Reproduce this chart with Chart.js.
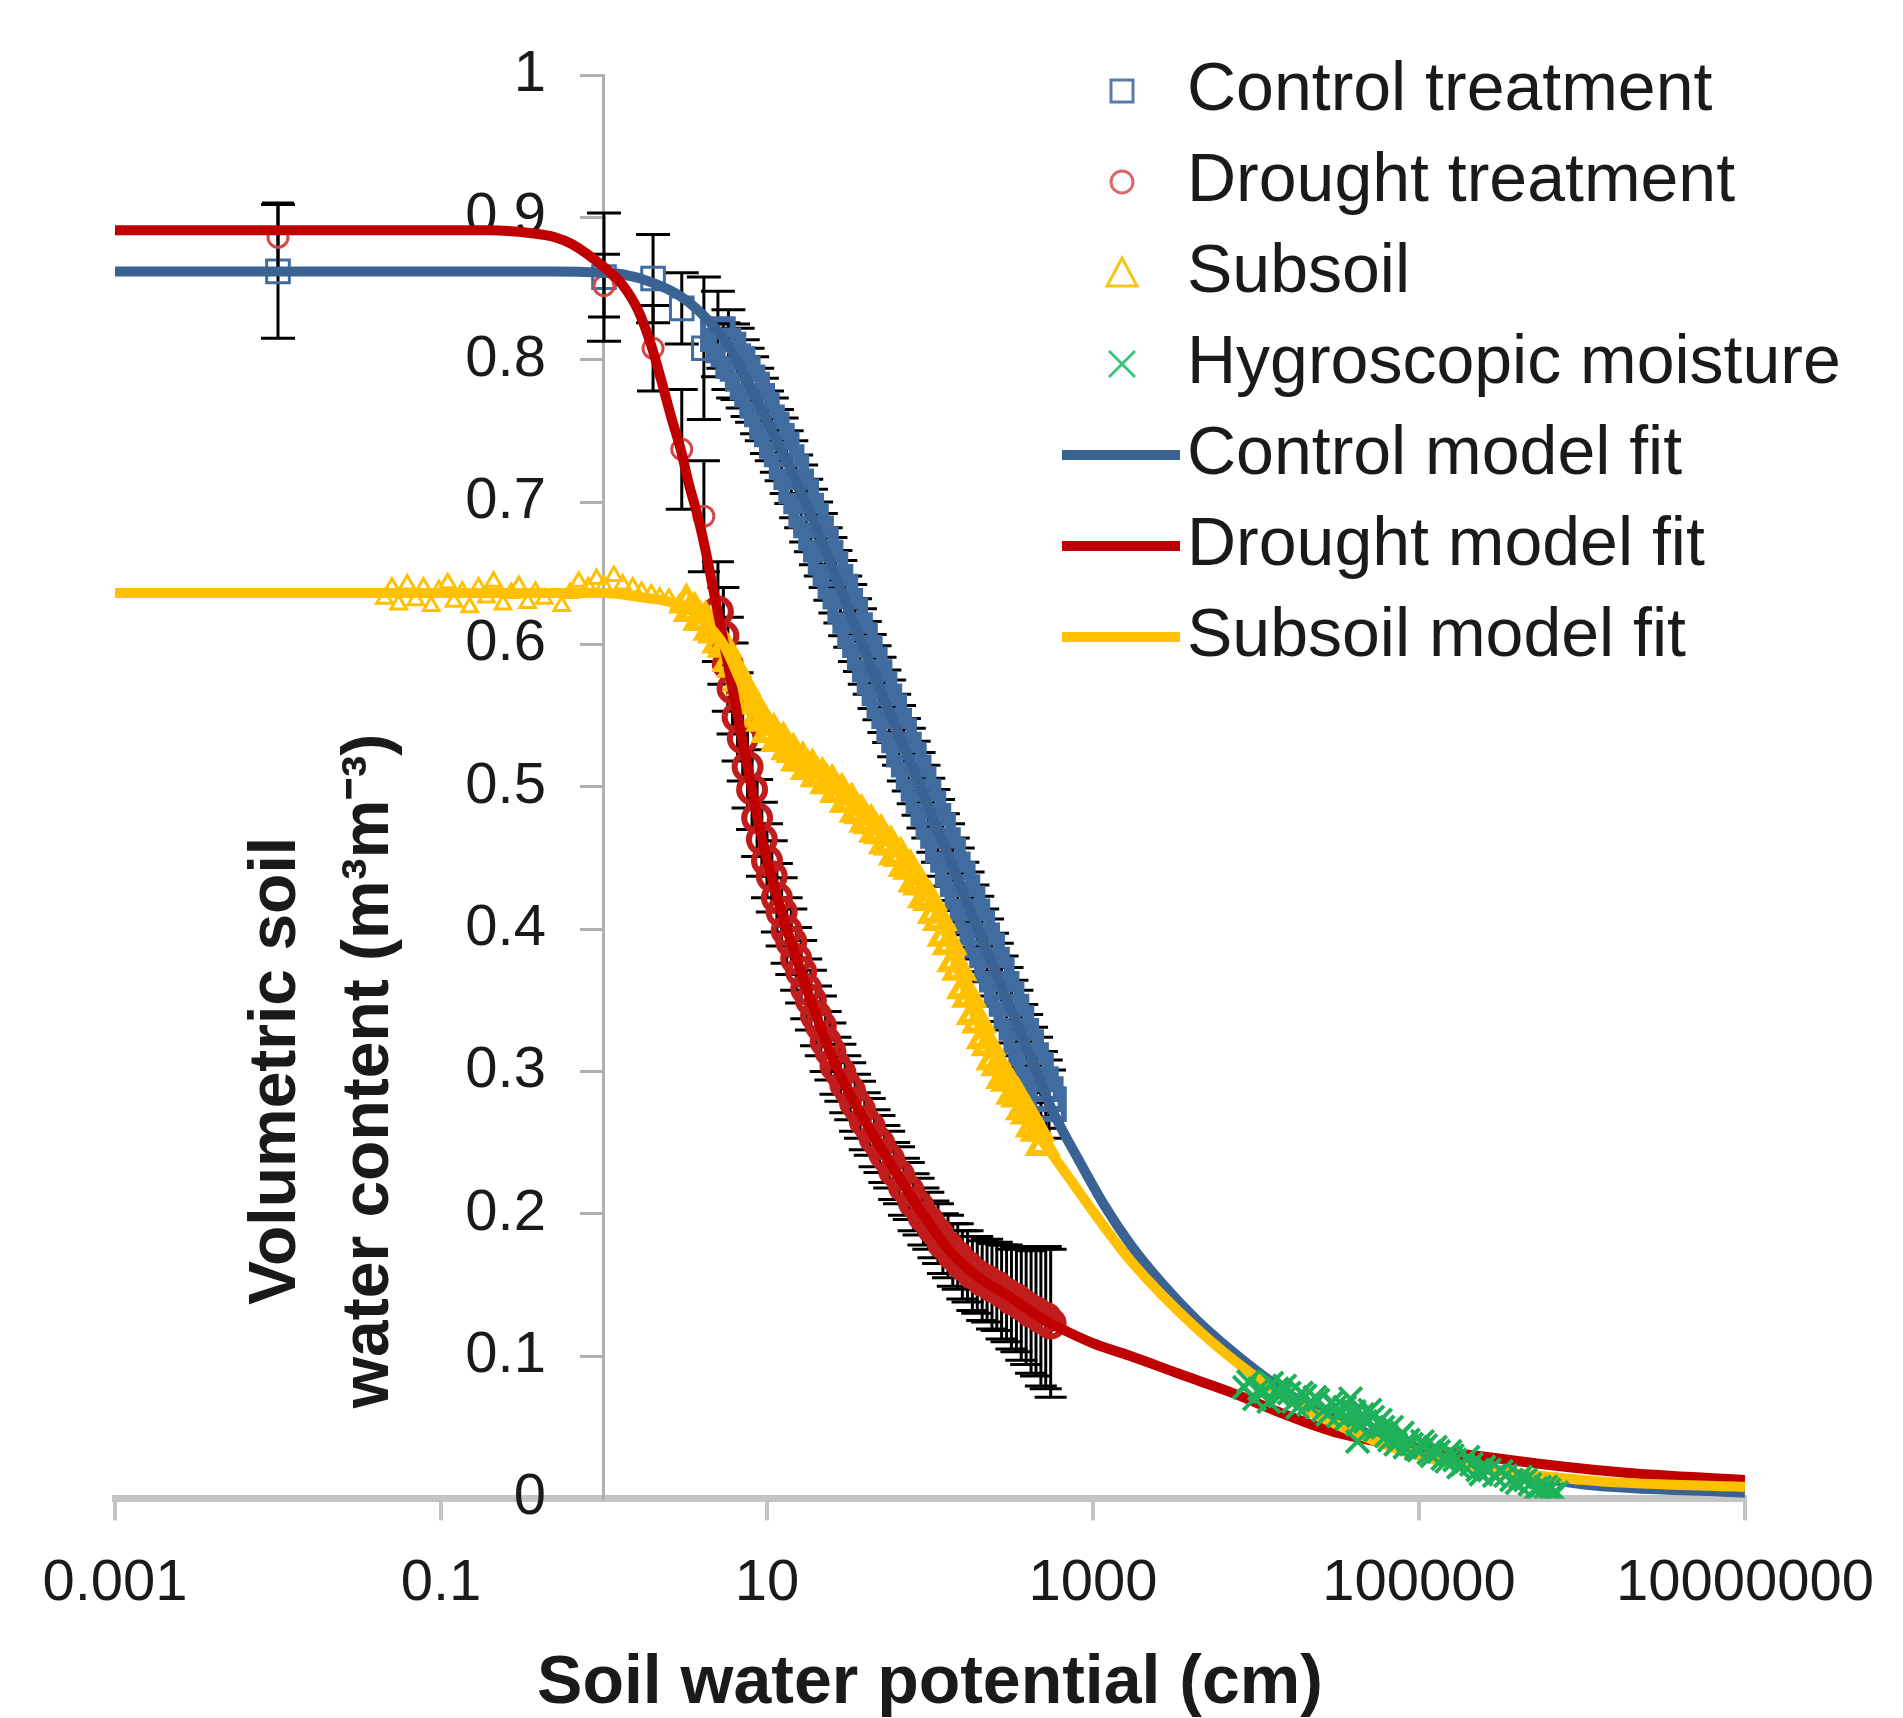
<!DOCTYPE html>
<html>
<head>
<meta charset="utf-8">
<script src="https://cdn.jsdelivr.net/npm/chart.js@4.4.1/dist/chart.umd.min.js"></script>
<style>
html,body{margin:0;padding:0;background:#ffffff;}
#wrap{width:1903px;height:1718px;position:relative;}
</style>
</head>
<body>
<div id="wrap"><canvas id="c"></canvas></div>
<script>
// ---------------- DATA ----------------
const xTickValues = [0.001, 0.1, 10, 1000, 100000, 10000000];
const xTickLabels = ['0.001', '0.1', '10', '1000', '100000', '10000000'];
const yTickLabels = ['0', '0.1', '0.2', '0.3', '0.4', '0.5', '0.6', '0.7', '0.8', '0.9', '1'];
const xTitle = 'Soil water potential (cm)';
const yTitleLines = ['Volumetric soil', 'water content (m\u00B3m\u207B\u00B3)'];
const seriesNames = ['Control treatment', 'Drought treatment', 'Subsoil', 'Hygroscopic moisture',
                     'Control model fit', 'Drought model fit', 'Subsoil model fit'];

// Control treatment (squares) with error half-widths
const ctrlX = [0.01, 1.0, 2.0, 3.0, 4.1, 5.0, 5.4, 5.8, 6.2, 6.6,
               7.1, 7.6, 8.1, 8.7, 9.3, 10, 10.7, 11.5, 12.3, 13.2,
               14.1, 15.1, 16.2, 17.4, 18.6, 20, 21.4, 22.9, 24.5, 26.3,
               28.2, 30.2, 32.4, 34.7, 37.2, 39.8, 42.7, 45.7, 49, 52.5,
               56.2, 60.3, 64.6, 69.2, 74.1, 79.4, 85.1, 91.2, 97.7, 105,
               112, 120, 129, 138, 148, 158, 170, 182, 195, 209,
               224, 240, 257, 275, 295, 316, 339, 363, 389, 417,
               447, 479, 513, 537];
const ctrlY = [0.862, 0.858, 0.857, 0.836, 0.808, 0.818, 0.810, 0.807, 0.799, 0.797,
               0.790, 0.784, 0.779, 0.771, 0.765, 0.756, 0.751, 0.743, 0.737, 0.728,
               0.721, 0.711, 0.704, 0.694, 0.687, 0.678, 0.670, 0.661, 0.653, 0.644,
               0.637, 0.627, 0.620, 0.610, 0.603, 0.594, 0.586, 0.577, 0.569, 0.560,
               0.553, 0.543, 0.536, 0.526, 0.519, 0.510, 0.502, 0.493, 0.485, 0.476,
               0.469, 0.459, 0.452, 0.442, 0.435, 0.426, 0.418, 0.409, 0.401, 0.392,
               0.385, 0.375, 0.368, 0.358, 0.351, 0.342, 0.334, 0.325, 0.317, 0.308,
               0.301, 0.291, 0.284, 0.277];
const ctrlErr = [0.047, 0.045, 0.031, 0.025, 0.05, 0.03, 0.016, 0.028, 0.026, 0.025,
                 0.024, 0.024, 0.023, 0.023, 0.022, 0.022, 0.022, 0.022, 0.022, 0.022,
                 0.022, 0.022, 0.022, 0.022, 0.022, 0.022, 0.022, 0.021, 0.022, 0.022,
                 0.022, 0.021, 0.022, 0.022, 0.022, 0.022, 0.021, 0.022, 0.022, 0.022,
                 0.022, 0.022, 0.021, 0.022, 0.022, 0.022, 0.022, 0.022, 0.021, 0.022,
                 0.022, 0.022, 0.022, 0.022, 0.022, 0.021, 0.022, 0.022, 0.022, 0.022,
                 0.022, 0.022, 0.022, 0.023, 0.022, 0.022, 0.023, 0.022, 0.023, 0.023,
                 0.023, 0.023, 0.024, 0.024];

// Drought treatment (circles) with error half-widths
const drX = [0.01, 1.0, 2.0, 3.0, 4.1, 5.0, 5.4, 5.75, 6.15, 6.6,
             7.1, 7.6, 8.1, 8.7, 9.3, 10, 10.7, 11.5, 12.3, 13.2,
             14.1, 15.1, 16.2, 17.4, 18.6, 20, 21.4, 22.9, 24.5, 26.3,
             28.2, 30.2, 32.4, 34.7, 37.2, 39.8, 42.7, 45.7, 49, 52.5,
             56.2, 60.3, 64.6, 69.2, 74.1, 79.4, 85.1, 91.2, 97.7, 105,
             112, 120, 129, 138, 148, 158, 170, 182, 195, 209,
             224, 240, 257, 275, 295, 316, 339, 363, 389, 417,
             447, 479, 513, 550];
const drY = [0.886, 0.852, 0.808, 0.737, 0.69, 0.623, 0.606, 0.586, 0.569, 0.549,
             0.534, 0.514, 0.498, 0.478, 0.463, 0.448, 0.437, 0.422, 0.412, 0.399,
             0.391, 0.379, 0.370, 0.358, 0.350, 0.339, 0.332, 0.321, 0.314, 0.304,
             0.299, 0.291, 0.286, 0.278, 0.273, 0.265, 0.261, 0.253, 0.249, 0.242,
             0.238, 0.230, 0.227, 0.219, 0.216, 0.208, 0.205, 0.198, 0.195, 0.189,
             0.186, 0.179, 0.177, 0.171, 0.170, 0.164, 0.163, 0.158, 0.157, 0.153,
             0.153, 0.149, 0.149, 0.145, 0.144, 0.140, 0.140, 0.136, 0.135, 0.131,
             0.131, 0.127, 0.127, 0.123];
const drErr = [0.024, 0.022, 0.03, 0.042, 0.039, 0.035, 0.034, 0.033, 0.032, 0.031,
               0.03, 0.029, 0.028, 0.027, 0.026, 0.026, 0.025, 0.024, 0.024, 0.023,
               0.023, 0.022, 0.022, 0.021, 0.021, 0.021, 0.021, 0.021, 0.02, 0.02,
               0.02, 0.02, 0.02, 0.02, 0.02, 0.02, 0.02, 0.02, 0.02, 0.02,
               0.02, 0.02, 0.02, 0.02, 0.02, 0.02, 0.02, 0.02, 0.02, 0.02,
               0.021, 0.021, 0.022, 0.022, 0.023, 0.024, 0.025, 0.026, 0.027, 0.028,
               0.029, 0.03, 0.031, 0.033, 0.034, 0.035, 0.037, 0.039, 0.041, 0.043,
               0.045, 0.048, 0.05, 0.052];

// Subsoil (triangles): plateau readings, then the falling band
const subFlatX = [0.045, 0.05, 0.055, 0.062, 0.07, 0.078, 0.087, 0.097, 0.11, 0.12, 0.135, 0.15, 0.17, 0.19, 0.21,
                  0.24, 0.27, 0.3, 0.34, 0.38, 0.43, 0.55, 0.62, 0.7, 0.8, 0.9, 1.0, 1.15, 1.3, 1.5,
                  1.7, 1.95, 2.2, 2.5, 2.9];
const subFlatY = [0.632, 0.64, 0.628, 0.642, 0.631, 0.64, 0.627, 0.638, 0.643, 0.63, 0.637, 0.626, 0.64, 0.633, 0.644,
                  0.628, 0.636, 0.641, 0.629, 0.637, 0.632, 0.627, 0.636, 0.644, 0.64, 0.646, 0.641, 0.648, 0.642, 0.64,
                  0.637, 0.635, 0.633, 0.632, 0.628];
const subBandX = [3.2, 3.4, 3.6, 3.9, 4.2, 4.5, 4.8, 5.1, 5.5, 5.9,
                  6.3, 6.8, 7.2, 7.8, 8.3, 8.9, 9.5, 10.2, 11, 11.7,
                  12.6, 13.5, 14.5, 15.5, 16.6, 17.8, 19, 20.4, 21.9, 23.4,
                  25.1, 26.9, 28.8, 30.9, 33.1, 35.5, 38, 40.7, 43.6, 46.8,
                  50.1, 53.7, 57.5, 61.7, 66.1, 70.8, 75.9, 81.3, 87.1, 93.3,
                  100, 107, 115, 123, 132, 141, 151, 162, 174, 186,
                  200, 214, 229, 245, 263, 282, 302, 324, 347, 372,
                  398, 427, 457, 490];
const subBandY = [0.629, 0.623, 0.623, 0.617, 0.617, 0.610, 0.608, 0.601, 0.598, 0.588,
                  0.584, 0.574, 0.571, 0.561, 0.558, 0.549, 0.546, 0.538, 0.538, 0.532,
                  0.532, 0.526, 0.524, 0.518, 0.518, 0.512, 0.513, 0.507, 0.507, 0.502,
                  0.502, 0.496, 0.496, 0.489, 0.489, 0.482, 0.481, 0.475, 0.474, 0.468,
                  0.467, 0.460, 0.459, 0.452, 0.451, 0.444, 0.442, 0.433, 0.431, 0.422,
                  0.420, 0.411, 0.406, 0.395, 0.389, 0.377, 0.371, 0.358, 0.352, 0.340,
                  0.334, 0.323, 0.318, 0.308, 0.304, 0.295, 0.293, 0.284, 0.282, 0.273,
                  0.270, 0.261, 0.258, 0.248];

// Hygroscopic moisture (crosses)
const hygX = [8500, 9000, 9800, 10500, 11300, 12000, 12500, 13500, 14000, 15000,
              16000, 17000, 18000, 19000, 20000, 21000, 23000, 24000, 26000, 27500,
              29000, 31000, 32000, 35000, 36000, 38000, 40000, 42000, 42000, 45000,
              47000, 50000, 52000, 54000, 58000, 60000, 63000, 66000, 68000, 72000,
              75000, 79000, 82000, 86000, 90000, 96000, 100000, 105000, 110000, 115000,
              120000, 126000, 132000, 140000, 148000, 155000, 160000, 166000, 175000, 185000,
              200000, 210000, 230000, 240000, 250000, 270000, 290000, 320000, 340000, 370000,
              400000, 420000, 450000, 480000, 520000, 550000, 600000, 630000, 660000, 700000];
const hygY = [0.078, 0.082, 0.07, 0.077, 0.075, 0.068, 0.081, 0.077, 0.072, 0.079,
              0.074, 0.068, 0.064, 0.074, 0.072, 0.066, 0.071, 0.069, 0.062, 0.059,
              0.067, 0.065, 0.058, 0.064, 0.056, 0.07, 0.061, 0.052, 0.04, 0.059,
              0.054, 0.062, 0.057, 0.048, 0.055, 0.05, 0.044, 0.041, 0.05, 0.038,
              0.043, 0.046, 0.036, 0.041, 0.038, 0.035, 0.034, 0.04, 0.037, 0.032,
              0.03, 0.036, 0.033, 0.028, 0.026, 0.033, 0.03, 0.027, 0.022, 0.024,
              0.029, 0.024, 0.02, 0.017, 0.022, 0.02, 0.016, 0.019, 0.016, 0.013,
              0.011, 0.015, 0.013, 0.01, 0.007, 0.008, 0.008, 0.006, 0.003, 0.004];

// Model fits
const ctrlFitX = [0.001, 0.5, 1, 1.3, 2, 3, 4.5, 6, 7.85, 10.4, 13.7, 18, 24, 32, 42, 57.5, 80, 105, 140, 184,
                  243, 304, 425, 561, 806, 1172, 1706, 2700, 4270, 6850, 10800, 20000, 50000, 100000, 300000, 1000000, 10000000];
const ctrlFitY = [0.862, 0.862, 0.861, 0.86, 0.854, 0.844, 0.826, 0.807, 0.781, 0.753, 0.725, 0.695, 0.66, 0.623, 0.589,
                  0.55, 0.511, 0.477, 0.442, 0.408, 0.375, 0.347, 0.307, 0.273, 0.239, 0.206, 0.178, 0.15, 0.126, 0.105,
                  0.087, 0.066, 0.045, 0.033, 0.02, 0.01, 0.004];
const drFitX = [0.001, 0.2, 0.35, 0.5, 0.64, 1, 1.29, 1.63, 1.95, 2.24, 2.58, 2.97, 3.31, 3.76, 4.2, 4.6, 5.7, 6.8, 7.85, 9,
                10.7, 12.4, 15.1, 18.8, 26.9, 40, 59.7, 90, 134, 200, 296, 509, 700, 1000, 1700, 3470, 6850, 15000, 31600, 360000, 1860000, 10000000];
const drFitY = [0.891, 0.891, 0.889, 0.886, 0.881, 0.865, 0.853, 0.834, 0.81, 0.786, 0.76, 0.736, 0.713, 0.69, 0.666,
                0.643, 0.589, 0.542, 0.506, 0.471, 0.436, 0.41, 0.38, 0.348, 0.302, 0.265, 0.232, 0.2, 0.173, 0.155,
                0.143, 0.125, 0.117, 0.109, 0.1, 0.087, 0.075, 0.059, 0.046, 0.027, 0.018, 0.013];
const subFitX = [0.001, 1, 1.7, 2.5, 3.4, 4.3, 5.4, 7.5, 10.8, 15, 21.7, 30, 43.4, 69.6, 110, 133, 151, 212, 300, 385,
                 461, 585, 1070, 1700, 4270, 9800, 20000, 100000, 1000000, 10000000];
const subFitY = [0.636, 0.636, 0.633, 0.63, 0.624, 0.614, 0.6, 0.565, 0.537, 0.52, 0.506, 0.492, 0.474, 0.448, 0.412,
                 0.389, 0.37, 0.326, 0.292, 0.27, 0.255, 0.239, 0.197, 0.167, 0.12, 0.086, 0.063, 0.03, 0.013, 0.008];

const yCrossX = 1; // value of x where the vertical axis crosses

// ---------------- STYLE ----------------
const FONT = '"Liberation Sans", Arial, sans-serif';
const TEXT = '#1a1a1a';
const C_CTRL_PT = '#416c9f', C_DR_PT = '#d24a48', C_DR_BAND = '#c21d1d', C_SUB = '#ffc000', C_HYG = '#1fb15a';
const C_CTRL_FIT = '#3a6394', C_DR_FIT = '#c00000', C_SUB_FIT = '#ffc000';
const X_AXIS_GRAY = '#c4c4c4', Y_AXIS_GRAY = '#b0b0b0';
const Y_LABEL_GAP = 58;
const Y_TITLE_POS = {x: 277, y: 1071, lineStep: 93, size: 66};
const LEGEND_BOX = {left: 1020, top: 34, right: 1903, bottom: 1496};

Chart.defaults.font.family = FONT;

const pts = (xs, ys) => xs.map((x, i) => ({x: x, y: ys[i]}));
const errorBarData = (xs, ys, es) => {
  const out = [];
  xs.forEach((x, i) => { out.push({x: x, y: ys[i] - es[i]}, {x: x, y: ys[i] + es[i]}, {x: x, y: null}); });
  return out;
};

// legend glyph images
function markerCanvas(kind, color) {
  const c = document.createElement('canvas');
  if (kind === 'line') {
    c.width = 164; c.height = 12;
    const g = c.getContext('2d');
    g.fillStyle = color; g.fillRect(46, 1, 118, 10);
    return c;
  }
  c.width = 88; c.height = 44;
  const g = c.getContext('2d');
  g.strokeStyle = color; g.lineWidth = 3;
  const cx = 68, cy = 22;
  g.beginPath();
  if (kind === 'rect') g.rect(cx - 11, cy - 11, 22, 22);
  else if (kind === 'circle') g.arc(cx, cy, 11, 0, Math.PI * 2);
  else if (kind === 'triangle') { g.moveTo(cx, cy - 15); g.lineTo(cx + 15, cy + 13); g.lineTo(cx - 15, cy + 13); g.closePath(); }
  else if (kind === 'cross') { g.moveTo(cx - 13, cy - 13); g.lineTo(cx + 13, cy + 13); g.moveTo(cx + 13, cy - 13); g.lineTo(cx - 13, cy + 13); }
  g.stroke();
  return c;
}
const legendMarkers = [
  markerCanvas('rect', '#5a7aa3'), markerCanvas('circle', '#d9676a'), markerCanvas('triangle', '#f5c518'),
  markerCanvas('cross', '#3cc47a'), markerCanvas('line', C_CTRL_FIT), markerCanvas('line', C_DR_FIT), markerCanvas('line', C_SUB_FIT)
];

// y scale whose tick labels sit a fixed gap left of the crossing axis
class OffsetLabelLinear extends Chart.LinearScale {
  _computeLabelItems(chartArea) {
    const items = super._computeLabelItems(chartArea);
    const axisPx = this.chart.scales.x.getPixelForValue(yCrossX);
    items.forEach(it => { it.options.translation[0] = axisPx - Y_LABEL_GAP; it.options.textAlign = 'right'; });
    return items;
  }
}
OffsetLabelLinear.id = 'offsetLinear';
OffsetLabelLinear.defaults = {};
Chart.register(OffsetLabelLinear);

const legendPlacer = {
  id: 'legendPlacer',
  afterLayout(chart) {
    const lg = chart.legend;
    if (lg) {
      lg.left = LEGEND_BOX.left; lg.top = LEGEND_BOX.top;
      lg.right = LEGEND_BOX.right; lg.bottom = LEGEND_BOX.bottom;
      lg.width = LEGEND_BOX.right - LEGEND_BOX.left; lg.height = LEGEND_BOX.bottom - LEGEND_BOX.top;
    }
  }
};
const yTitlePlugin = {
  id: 'yTitleDraw',
  afterDraw(chart) {
    const lines = chart.options.scales.y.title.text;
    const ctx = chart.ctx;
    ctx.save();
    ctx.font = 'bold ' + Y_TITLE_POS.size + 'px ' + FONT;
    ctx.fillStyle = TEXT;
    ctx.textAlign = 'center';
    ctx.textBaseline = 'middle';
    ctx.translate(Y_TITLE_POS.x, Y_TITLE_POS.y);
    ctx.rotate(-Math.PI / 2);
    lines.forEach((ln, i) => ctx.fillText(ln, 0, i * Y_TITLE_POS.lineStep));
    ctx.restore();
  }
};

const hollow = 'rgba(255,255,255,0)';
const ctrlRadius = (c) => (c.dataIndex < 5 ? 16 : 21);
const subRadius = (c) => (c.dataIndex < subFlatX.length ? 9 : 15);
// order: higher values are painted first (underneath)
const datasets = [
  { label: seriesNames[0], data: pts(ctrlX, ctrlY), showLine: false, pointStyle: 'rect', pointRadius: ctrlRadius,
    pointBorderWidth: (c) => (c.dataIndex < 5 ? 3 : 6), pointBorderColor: C_CTRL_PT, pointBackgroundColor: hollow,
    borderColor: C_CTRL_PT, backgroundColor: hollow, order: 20 },
  { label: seriesNames[1], data: pts(drX, drY), showLine: false, pointStyle: 'circle',
    pointRadius: (c) => (c.dataIndex < 5 ? 10 : 13),
    pointBorderWidth: (c) => (c.dataIndex < 5 ? 3 : 6),
    pointBorderColor: (c) => (c.dataIndex < 5 ? C_DR_PT : C_DR_BAND), pointBackgroundColor: hollow,
    borderColor: C_DR_PT, backgroundColor: hollow, order: 18 },
  { label: seriesNames[2], data: pts(subFlatX.concat(subBandX), subFlatY.concat(subBandY)), showLine: false,
    pointStyle: 'triangle', pointRadius: subRadius, pointBorderWidth: (c) => (c.dataIndex < subFlatX.length ? 3 : 6),
    pointBorderColor: C_SUB, pointBackgroundColor: hollow,
    borderColor: C_SUB, backgroundColor: hollow, order: 16 },
  { label: seriesNames[3], data: pts(hygX, hygY), showLine: false, pointStyle: 'crossRot', pointRadius: 16,
    pointBorderWidth: 4, pointBorderColor: C_HYG, borderColor: C_HYG, order: 12 },
  { label: seriesNames[4], data: pts(ctrlFitX, ctrlFitY), borderColor: C_CTRL_FIT, borderWidth: 10, pointRadius: 0,
    cubicInterpolationMode: 'monotone', fill: false, order: 15 },
  { label: seriesNames[5], data: pts(drFitX, drFitY), borderColor: C_DR_FIT, borderWidth: 10, pointRadius: 0,
    cubicInterpolationMode: 'monotone', fill: false, order: 14 },
  { label: seriesNames[6], data: pts(subFitX, subFitY), borderColor: C_SUB_FIT, borderWidth: 10, pointRadius: 0,
    cubicInterpolationMode: 'monotone', fill: false, order: 13 },
  { label: 'Control error', data: errorBarData(ctrlX, ctrlY, ctrlErr), borderColor: '#000000', borderWidth: 3,
    spanGaps: false, pointStyle: 'line', pointRadius: 17, pointBorderWidth: 3, pointBorderColor: '#000000', order: 21 },
  { label: 'Drought error', data: errorBarData(drX, drY, drErr), borderColor: '#000000', borderWidth: 3,
    spanGaps: false, pointStyle: 'line', pointRadius: 16, pointBorderWidth: 3, pointBorderColor: '#000000', order: 19 }
];

new Chart(document.getElementById('c'), {
  type: 'line',
  data: { datasets: datasets },
  options: {
    responsive: true,
    maintainAspectRatio: false,
    animation: false,
    devicePixelRatio: 1,
    events: [],
    layout: { padding: { left: 115, right: 132, top: 75, bottom: 0 } },
    plugins: {
      tooltip: { enabled: false },
      legend: {
        position: 'chartArea',
        align: 'start',
        fullSize: false,
        labels: {
          usePointStyle: true,
          pointStyleWidth: 110,
          boxHeight: 68,
          padding: 23,
          color: TEXT,
          font: { family: FONT, size: 68 },
          sort: (a, b) => a.datasetIndex - b.datasetIndex,
          generateLabels: (chart) => {
            const items = Chart.defaults.plugins.legend.labels.generateLabels(chart);
            return items.filter(it => it.datasetIndex < legendMarkers.length)
                        .map(it => Object.assign({}, it, { pointStyle: legendMarkers[it.datasetIndex], rotation: 0 }));
          }
        }
      }
    },
    scales: {
      x: {
        type: 'logarithmic',
        position: 'bottom',
        min: 0.001,
        max: 10000000,
        afterBuildTicks: (axis) => { axis.ticks = xTickValues.map(v => ({ value: v })); },
        ticks: {
          autoSkip: false, maxRotation: 0, minRotation: 0, padding: 29,
          color: TEXT, font: { family: FONT, size: 58 },
          callback: (v, i) => xTickLabels[i]
        },
        grid: { display: true, drawOnChartArea: false, drawTicks: true, tickLength: 22, lineWidth: 4, color: X_AXIS_GRAY },
        border: { display: true, width: 7, color: X_AXIS_GRAY },
        title: { display: true, text: xTitle, color: TEXT,
                 font: { family: FONT, size: 68, weight: 'bold', lineHeight: 1.0 },
                 padding: { top: 2, bottom: 0 } }
      },
      y: {
        type: 'offsetLinear',
        position: { x: yCrossX },
        min: 0,
        max: 1,
        ticks: {
          stepSize: 0.1, autoSkip: false, color: TEXT, font: { family: FONT, size: 58 },
          callback: (v, i) => yTickLabels[i]
        },
        grid: { display: true, drawOnChartArea: false, drawTicks: true, tickLength: 22, lineWidth: 3, color: Y_AXIS_GRAY },
        border: { display: true, width: 3, color: Y_AXIS_GRAY },
        title: { display: false, text: yTitleLines }
      }
    }
  },
  plugins: [legendPlacer, yTitlePlugin]
});
</script>
</body>
</html>
